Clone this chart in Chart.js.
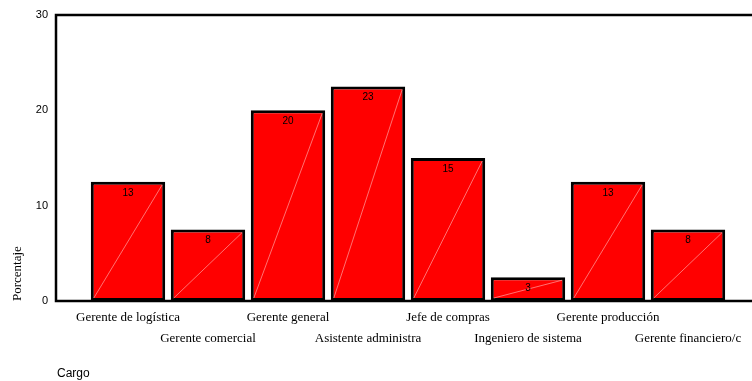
<!DOCTYPE html>
<html>
<head>
<meta charset="utf-8">
<script src="https://cdn.jsdelivr.net/npm/chart.js@4/dist/chart.umd.min.js"></script>
<style>
  html, body { margin: 0; padding: 0; background: #ffffff; }
  #wrap { width: 752px; height: 381px; }
</style>
</head>
<body>
<div id="wrap"><canvas id="c" width="752" height="381"></canvas></div>
<script>
// Cargo categories and their percentages
const cargos = [
  'Gerente de logística',
  'Gerente comercial',
  'Gerente general',
  'Asistente administra',
  'Jefe de compras',
  'Ingeniero de sistema',
  'Gerente producción',
  'Gerente financiero/c'
];
const porcentajes = [12.5, 7.5, 20, 22.5, 15, 2.5, 12.5, 7.5];
const yTicks = [0, 10, 20, 30];

const axisTitleX = 'Cargo';
const axisTitleY = 'Porcentaje';

// Frame lines, diagonal bar hatch, value labels and the x axis title
const spssDecor = {
  id: 'spssDecor',
  beforeDatasetsDraw(chart) {
    const { ctx, chartArea } = chart;
    const left = chartArea.left - 32;
    ctx.save();
    ctx.strokeStyle = '#000';
    ctx.lineWidth = 2.5;
    ctx.beginPath();
    ctx.moveTo(chart.width, chartArea.top);
    ctx.lineTo(left, chartArea.top);
    ctx.lineTo(left, chartArea.bottom);
    ctx.lineTo(chart.width, chartArea.bottom);
    ctx.stroke();
    ctx.restore();
  },
  afterDatasetsDraw(chart) {
    const { ctx } = chart;
    const meta = chart.getDatasetMeta(0);
    const bw = 3;
    ctx.save();
    meta.data.forEach((bar, i) => {
      const half = bar.width / 2;
      // thin diagonal from bottom-left to top-right inside the border
      ctx.strokeStyle = 'rgba(255,190,190,0.85)';
      ctx.lineWidth = 0.7;
      ctx.beginPath();
      ctx.moveTo(bar.x - half + bw, bar.base - bw);
      ctx.lineTo(bar.x + half - bw, bar.y + bw);
      ctx.stroke();
      // value label near the top of the bar
      ctx.fillStyle = '#000';
      ctx.font = '10px "Liberation Sans", Arial, sans-serif';
      ctx.textAlign = 'center';
      ctx.textBaseline = 'middle';
      ctx.fillText(String(Math.round(porcentajes[i])), bar.x, bar.y + 11);
    });
    ctx.fillStyle = '#000';
    ctx.font = '12px "Liberation Sans", Arial, sans-serif';
    ctx.textAlign = 'left';
    ctx.textBaseline = 'middle';
    ctx.fillText(axisTitleX, chart.chartArea.left - 31, 374);
    ctx.restore();
  }
};

new Chart(document.getElementById('c'), {
  type: 'bar',
  data: {
    labels: cargos,
    datasets: [{
      data: porcentajes,
      backgroundColor: '#ff0000',
      borderColor: '#000000',
      borderWidth: 3,
      borderSkipped: false,
      barPercentage: 0.93,
      categoryPercentage: 1
    }]
  },
  options: {
    responsive: false,
    animation: false,
    devicePixelRatio: 1,
    layout: { padding: { top: 15, right: 24, bottom: 0, left: 0 } },
    plugins: {
      legend: { display: false },
      tooltip: { enabled: false }
    },
    scales: {
      x: {
        type: 'category',
        offset: true,
        grid: { display: false, drawTicks: false },
        border: { display: false },
        ticks: {
          autoSkip: false,
          maxRotation: 0,
          minRotation: 0,
          padding: 6.5,
          color: '#000',
          font: { family: '"Liberation Serif", "Times New Roman", serif', size: 13, lineHeight: 21 / 13 },
          callback(value, index) {
            const name = cargos[index];
            return index % 2 === 0 ? [name, ''] : ['', name];
          }
        },
        afterFit(scale) { scale.height = 80; }
      },
      y: {
        min: 0,
        max: 30,
        afterBuildTicks(scale) { scale.ticks = yTicks.map(v => ({ value: v })); },
        grid: { display: false, drawTicks: false },
        border: { display: false },
        ticks: {
          padding: 40,
          color: '#000',
          font: { family: '"Liberation Sans", Arial, sans-serif', size: 11 }
        },
        title: {
          display: true,
          text: axisTitleY,
          align: 'start',
          color: '#000',
          padding: { top: 10, bottom: 0 },
          font: { family: '"Liberation Serif", "Times New Roman", serif', size: 13 }
        },
        afterFit(scale) {
          scale.width = 88;
          scale.paddingTop = 0;
          scale.paddingBottom = 0;
        }
      }
    }
  },
  plugins: [spssDecor]
});
</script>
</body>
</html>
